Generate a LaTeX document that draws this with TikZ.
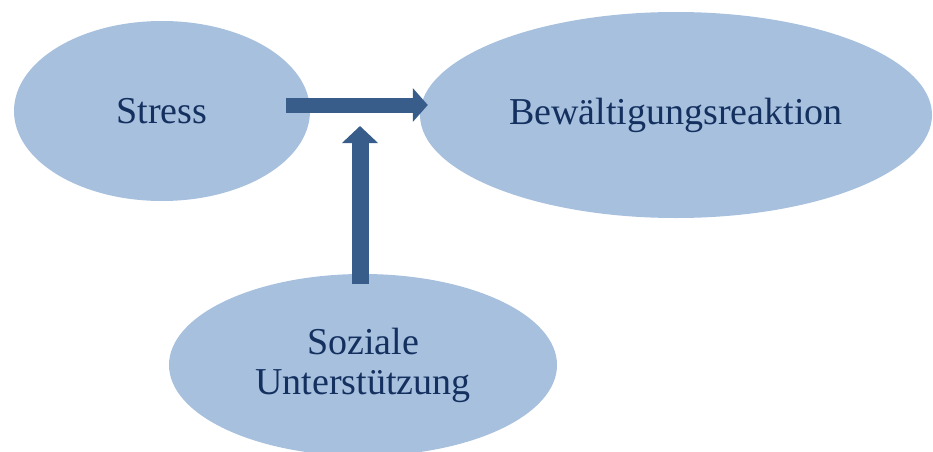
\documentclass[tikz,border=0pt]{standalone}
\usepackage{fontspec}
\setmainfont{Liberation Serif}
\usetikzlibrary{shapes.geometric,arrows.meta}

\definecolor{bubble}{HTML}{A7C0DE}
\definecolor{arrowblue}{HTML}{385D8A}
\definecolor{textnavy}{HTML}{14305F}

\begin{document}
\begin{tikzpicture}[x=1pt, y=1pt, factor/.style={ellipse, fill=bubble, text=textnavy, align=center, inner sep=0pt, font=\fontsize{38}{40}\selectfont}, links/.style={-{Triangle[length=15pt, width=33pt]}, arrowblue, line width=15pt}]
	
		\clip (0,0) rectangle (933,451);
		
		\node[factor, minimum width=296, minimum height=180] at (162,340) (stress) {Stress};
		\node[factor, minimum width=512, minimum height=206] at (676,336) (reaktion) {Bewältigungsreaktion};
		\node[factor, minimum width=388, minimum height=182] at (363,86) (soziale) {Soziale\\Unterstützung};
		
		\coordinate (moderation) at (360,325);
		
		\draw[links] ([shift={(-24pt,6pt)}]stress.east) -- ([shift={(8pt,10pt)}]reaktion.west);
		\draw[links, line width=17pt, -{Triangle[length=17pt, width=35pt]}] ([shift={(-3pt,-10pt)}]soziale.north) -- (moderation);
	\end{tikzpicture}
\end{document}
